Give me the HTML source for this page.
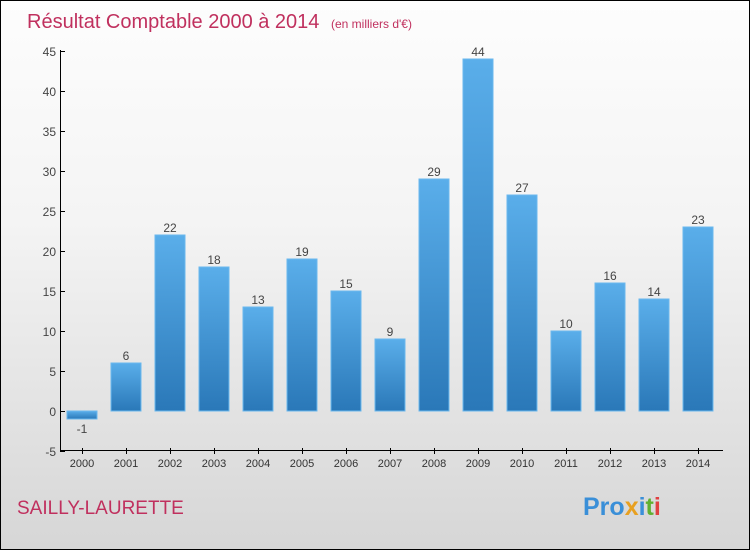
<!DOCTYPE html>
<html><head><meta charset="utf-8"><style>
body{margin:0;}
#c{width:748px;height:548px;border:1px solid #000;background:linear-gradient(#fdfdfd,#f4f4f4 40%,#d6d6d6);position:relative;overflow:hidden;font-family:"Liberation Sans",sans-serif;}
</style></head><body>
<div id="c">
<svg id="s" width="748" height="548" xmlns="http://www.w3.org/2000/svg">
<text x="26" y="27" font-size="20" fill="#c0305e">Résultat Comptable 2000 à 2014 <tspan font-size="12" dx="6">(en milliers d'€)</tspan></text>
<text x="16" y="513" font-size="19" fill="#c0305e">SAILLY-LAURETTE</text>
<text x="582" y="514" font-size="25" font-weight="bold"><tspan fill="#3a8fd8">Pro</tspan><tspan fill="#e8a020">x</tspan><tspan fill="#3a8fd8">i</tspan><tspan fill="#60b030">t</tspan><tspan fill="#e04040">i</tspan></text>
<defs><linearGradient id="g" x1="0" y1="0" x2="0" y2="1"><stop offset="0" stop-color="#5aaeea"/><stop offset="1" stop-color="#2a78b8"/></linearGradient></defs>
<g id="plot"></g>
</svg></div>
<script>
const years=["2000","2001","2002","2003","2004","2005","2006","2007","2008","2009","2010","2011","2012","2013","2014"];
const values=[-1,6,22,18,13,19,15,9,29,44,27,10,16,14,23];
const yTicks=[-5,0,5,10,15,20,25,30,35,40,45];
const NS="http://www.w3.org/2000/svg";
const g=document.getElementById('plot');
const y=v=>410-v*8;
const x=i=>81+i*44;
function el(t,a){const e=document.createElementNS(NS,t);for(const k in a)e.setAttribute(k,a[k]);g.appendChild(e);return e;}
let e=el('line',{x1:59.5,y1:49,x2:59.5,y2:450,stroke:'#000'});


e=el('line',{x1:59,y1:449.5,x2:722,y2:449.5,stroke:'#000'});


yTicks.forEach(v=>{
 el('line',{x1:59,x2:64,y1:y(v)+.5,y2:y(v)+.5,stroke:'#000'});
 const t=el('text',{x:55,y:y(v)+5,'text-anchor':'end','font-size':12,fill:'#444'});t.textContent=v;
 
 
});
years.forEach((yr,i)=>{
 const v=values[i];
 el('line',{x1:x(i)+.5,x2:x(i)+.5,y1:447,y2:453,stroke:'#000'});
 const t=el('text',{x:x(i),y:466,'text-anchor':'middle','font-size':11,fill:'#333'});t.textContent=yr;
 
 
 const top=Math.min(y(v),y(0)),h=Math.abs(y(v)-y(0));
 const r=el('rect',{x:x(i)-15,y:top,width:30,height:h,fill:'url(#g)',stroke:'#6ab8ee','stroke-width':1});
 
 
 const l=el('text',{x:x(i),y:v>=0?top-3:y(v)+14,'text-anchor':'middle','font-size':12,fill:'#444'});l.textContent=v;
 
 
});
</script>
</body></html>
